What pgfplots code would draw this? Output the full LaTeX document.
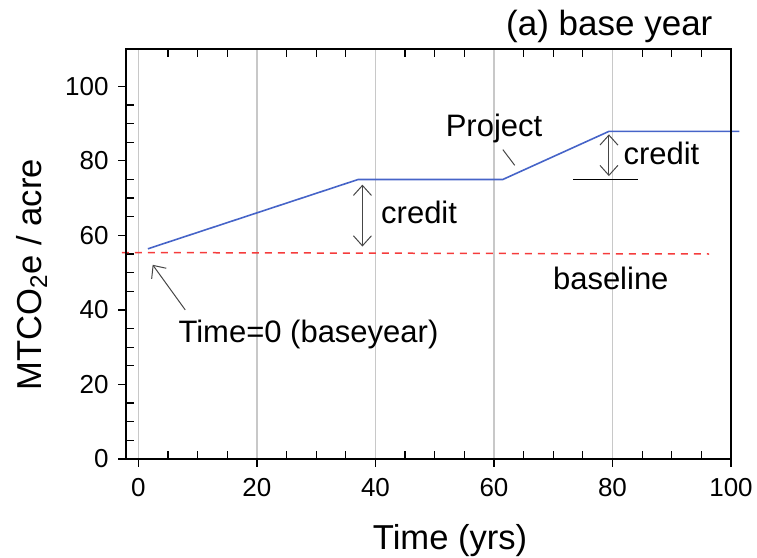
\documentclass[border=0pt]{standalone}
\usepackage{fontspec}
\setmainfont{Liberation Sans}
\usepackage{pgfplots}
\pgfplotsset{compat=1.18}
\usetikzlibrary{arrows.meta}
\definecolor{projblue}{RGB}{70,100,200}
\definecolor{basered}{RGB}{245,60,60}
\definecolor{gridgray}{RGB}{200,200,200}
\definecolor{arrgray}{RGB}{70,70,70}
\begin{document}
\begin{tikzpicture}
\begin{axis}[name=ax, scale only axis, width=302.5pt, height=205pt,
  xmin=-2.1, xmax=100, ymin=0, ymax=110,
  xtick={0,20,...,100}, ytick={0,20,...,100},
  minor x tick num=3, minor y tick num=3,
  xtick pos=left, ytick pos=left,
  tick align=inside, major tick length=-4pt, minor tick length=4pt,
  xmajorgrids, grid style={gridgray, line width=0.75pt},
  axis line style={line width=1pt},
  tick style={black, line width=0.6pt},
  tick label style={font=\fontsize{13}{15}\selectfont},
  /pgf/number format/assume math mode=true,
  xticklabel style={yshift=-6.2pt}, yticklabel style={xshift=-5.2pt},
  clip=false]
\addplot[projblue, line width=0.8pt] coordinates {(1.6,56.4) (37.1,75.0) (61.5,75.0) (79.4,87.9) (101.4,87.9)};
\addplot[basered, line width=0.75pt, dash pattern=on 3.5pt off 3pt] coordinates {(-2.8,55.4) (96.3,55.0)};
% annotations
\draw[-{Straight Barb[length=5pt,width=9pt]}, arrgray, line width=0.5pt] (axis cs:7.9,40.0) -- (axis cs:2.4,52.1);
\draw[{Straight Barb[length=5pt,width=9pt]}-{Straight Barb[length=5pt,width=9pt]}, arrgray, line width=0.5pt] (axis cs:37.8,73.6) -- (axis cs:37.8,57.0);
\draw[{Straight Barb[length=5pt,width=9pt]}-{Straight Barb[length=5pt,width=9pt]}, arrgray, line width=0.5pt] (axis cs:79.4,87.1) -- (axis cs:79.4,75.9);
\draw[black, line width=0.6pt] (axis cs:73.4,75.0) -- (axis cs:84.3,75.0);
\draw[arrgray, line width=0.5pt] (axis cs:61.5,83.0) -- (axis cs:63.5,78.8);
\node[anchor=base west, inner sep=0, font=\fontsize{15.5}{18}\selectfont] at (axis cs:6.7,31.3) {Time=0 (baseyear)};
\node[anchor=base west, inner sep=0, font=\fontsize{15.5}{18}\selectfont] at (axis cs:40.9,63.3) {credit};
\node[anchor=base west, inner sep=0, font=\fontsize{15.5}{18}\selectfont] at (axis cs:81.8,79.0) {credit};
\node[anchor=base west, inner sep=0, font=\fontsize{15.5}{18}\selectfont] at (axis cs:51.8,86.5) {Project};
\node[anchor=base west, inner sep=0, font=\fontsize{15.5}{18}\selectfont] at (axis cs:69.9,45.4) {baseline};
% labels and title
\node[anchor=base west, inner sep=0, font=\fontsize{17.3}{20}\selectfont] at (axis cs:39.5,-24.4) {Time (yrs)};
\node[rotate=90, anchor=base, inner sep=0, font=\fontsize{17.3}{20}\selectfont] at (axis cs:-16.3,49.4) {MTCO\textsubscript{2}e / acre};
\node[anchor=base west, inner sep=0, font=\fontsize{17.5}{20}\selectfont] at (axis cs:62.0,113.5) {(a) base year};
\end{axis}
\begin{axis}[at={(ax.south west)}, anchor=south west, scale only axis, width=302.5pt, height=205pt,
  xmin=-2.1, xmax=100, ymin=0, ymax=110,
  xtick={0,20,...,100}, xticklabels={}, ytick=\empty,
  minor x tick num=3, xtick pos=right,
  tick align=inside, major tick length=0pt, minor tick length=4pt,
  axis line style={line width=1pt},
  tick style={black, line width=0.6pt}]
\end{axis}
\pgfresetboundingbox
\path ([shift={(-63pt,-49.5pt)}]ax.south west) rectangle ([shift={(13pt,24.5pt)}]ax.north east);
\end{tikzpicture}
\end{document}
